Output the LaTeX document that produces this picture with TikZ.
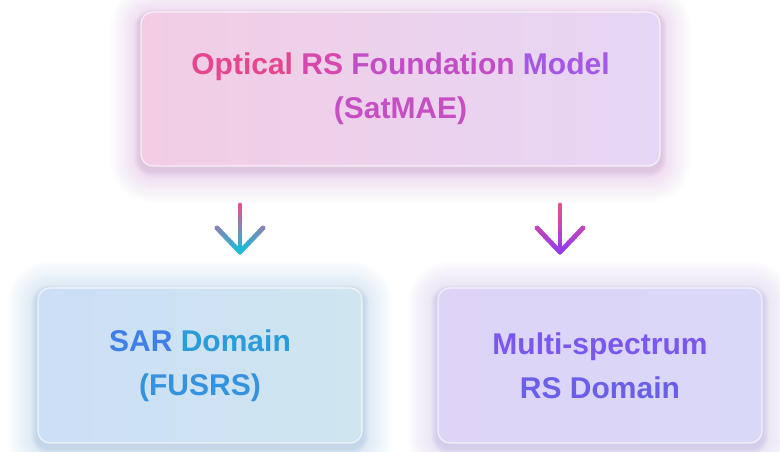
\documentclass[tikz,border=0pt]{standalone}
\usepackage{fontspec}
\setmainfont{Liberation Sans}
\usetikzlibrary{positioning,calc,backgrounds}

\definecolor{topL}{HTML}{F2CDE4}
\definecolor{topR}{HTML}{E6D6F5}
\definecolor{sarL}{HTML}{CCDFF6}
\definecolor{sarR}{HTML}{CFE5F0}
\definecolor{msL}{HTML}{DDD4F8}
\definecolor{msR}{HTML}{D9D8F8}
\definecolor{glowTop}{HTML}{D8A2DC}
\definecolor{glowSar}{HTML}{9CC8EC}
\definecolor{glowMs}{HTML}{C4B4F2}
\definecolor{shadeTop}{HTML}{B888B8}
\definecolor{shadeSar}{HTML}{88AACC}
\definecolor{shadeMs}{HTML}{A898D8}
\definecolor{optA}{HTML}{E5468F}
\definecolor{optB}{HTML}{D648AE}
\definecolor{optC}{HTML}{C24DC7}
\definecolor{optD}{HTML}{A557E6}
\definecolor{sat}{HTML}{C74FC4}
\definecolor{sarA}{HTML}{3F7FEA}
\definecolor{sarB}{HTML}{2A9CD9}
\definecolor{fus}{HTML}{3592DE}
\definecolor{msA}{HTML}{7A57EE}
\definecolor{msB}{HTML}{6B5FE9}
\definecolor{arrTop}{HTML}{E8508C}
\definecolor{arrCyan}{HTML}{22B8D8}
\definecolor{arrPurple}{HTML}{9A3CE8}

\newcommand{\gradarrow}[4]{%
  \foreach \k in {0,...,15}{%
    \pgfmathtruncatemacro{\mixa}{100-100*\k/15}%
    \draw[arrowline,#3!\mixa!#4] ($(#1)!\k/16!(#2)$) -- ($(#1)!\k/16+1/16!(#2)$);}%
  \foreach \s in {-1,1}{%
    \coordinate (wing) at ($(#2)+(\s*23,24)$);
    \foreach \k in {0,...,7}{%
      \pgfmathtruncatemacro{\mixa}{50-50*\k/7}%
      \draw[arrowline,#3!\mixa!#4] ($(wing)!\k/8!(#2)$) -- ($(wing)!\k/8+1/8!(#2)$);}}%
}

\begin{document}
\begin{tikzpicture}[x=1pt,y=1pt,on grid,
  box/.style={rounded corners=12pt,minimum width=324pt,minimum height=155pt,align=center,
    font=\bfseries\fontsize{30}{44}\selectfont,draw=white,draw opacity=0.7,line width=1.2pt},
  arrowline/.style={line width=4.8pt,line cap=round}]
  \useasboundingbox (0,0) rectangle (780,452);
  \node[box,minimum width=519pt,minimum height=154pt,left color=topL,right color=topR] (model) at (400.5,363)
    {\textcolor{optA}{Optical} \textcolor{optB}{RS} \textcolor{optC}{Foundation} \textcolor{optD}{Model}\\ \textcolor{sat}{(SatMAE)}};
  \node[box,left color=sarL,right color=sarR] (sar) [below left=276.5pt and 200.5pt of model]
    {\textcolor{sarA}{SAR} \textcolor{sarB}{Domain}\\ \textcolor{fus}{(FUSRS)}};
  \node[box,left color=msL,right color=msR] (ms) [below right=276.5pt and 199.5pt of model]
    {\textcolor{msA}{Multi-spectrum}\\ \textcolor{msB}{RS Domain}};

  \coordinate (sarTail) at (240,247);
  \coordinate (sarTip) at (240,200);
  \coordinate (msTail) at (560,247);
  \coordinate (msTip) at (560,200);
  \gradarrow{sarTail}{sarTip}{arrTop}{arrCyan}
  \gradarrow{msTail}{msTip}{arrTop}{arrPurple}

  \begin{scope}[on background layer]
    \fill[white] (0,0) rectangle (780,452);
    \foreach \n/\g/\h in {model/glowTop/shadeTop,sar/glowSar/shadeSar,ms/glowMs/shadeMs}{
      \foreach \r in {1,...,12}{
        \pgfmathsetmacro{\rr}{12+2.5*\r}
        \fill[\g,opacity=0.03,rounded corners=\rr pt]
          ([shift={(-2.5*\r,-2.5*\r-6)}]\n.south west) rectangle ([shift={(2.5*\r,2.5*\r-4)}]\n.north east);
      }
      \foreach \r in {1,...,4}{
        \pgfmathsetmacro{\rr}{12+1.5*\r}
        \fill[\h,opacity=0.07,rounded corners=\rr pt]
          ([shift={(-1.5*\r,-1.5*\r-4)}]\n.south west) rectangle ([shift={(1.5*\r,1.5*\r-4)}]\n.north east);
      }
    }
  \end{scope}
\end{tikzpicture}
\end{document}
